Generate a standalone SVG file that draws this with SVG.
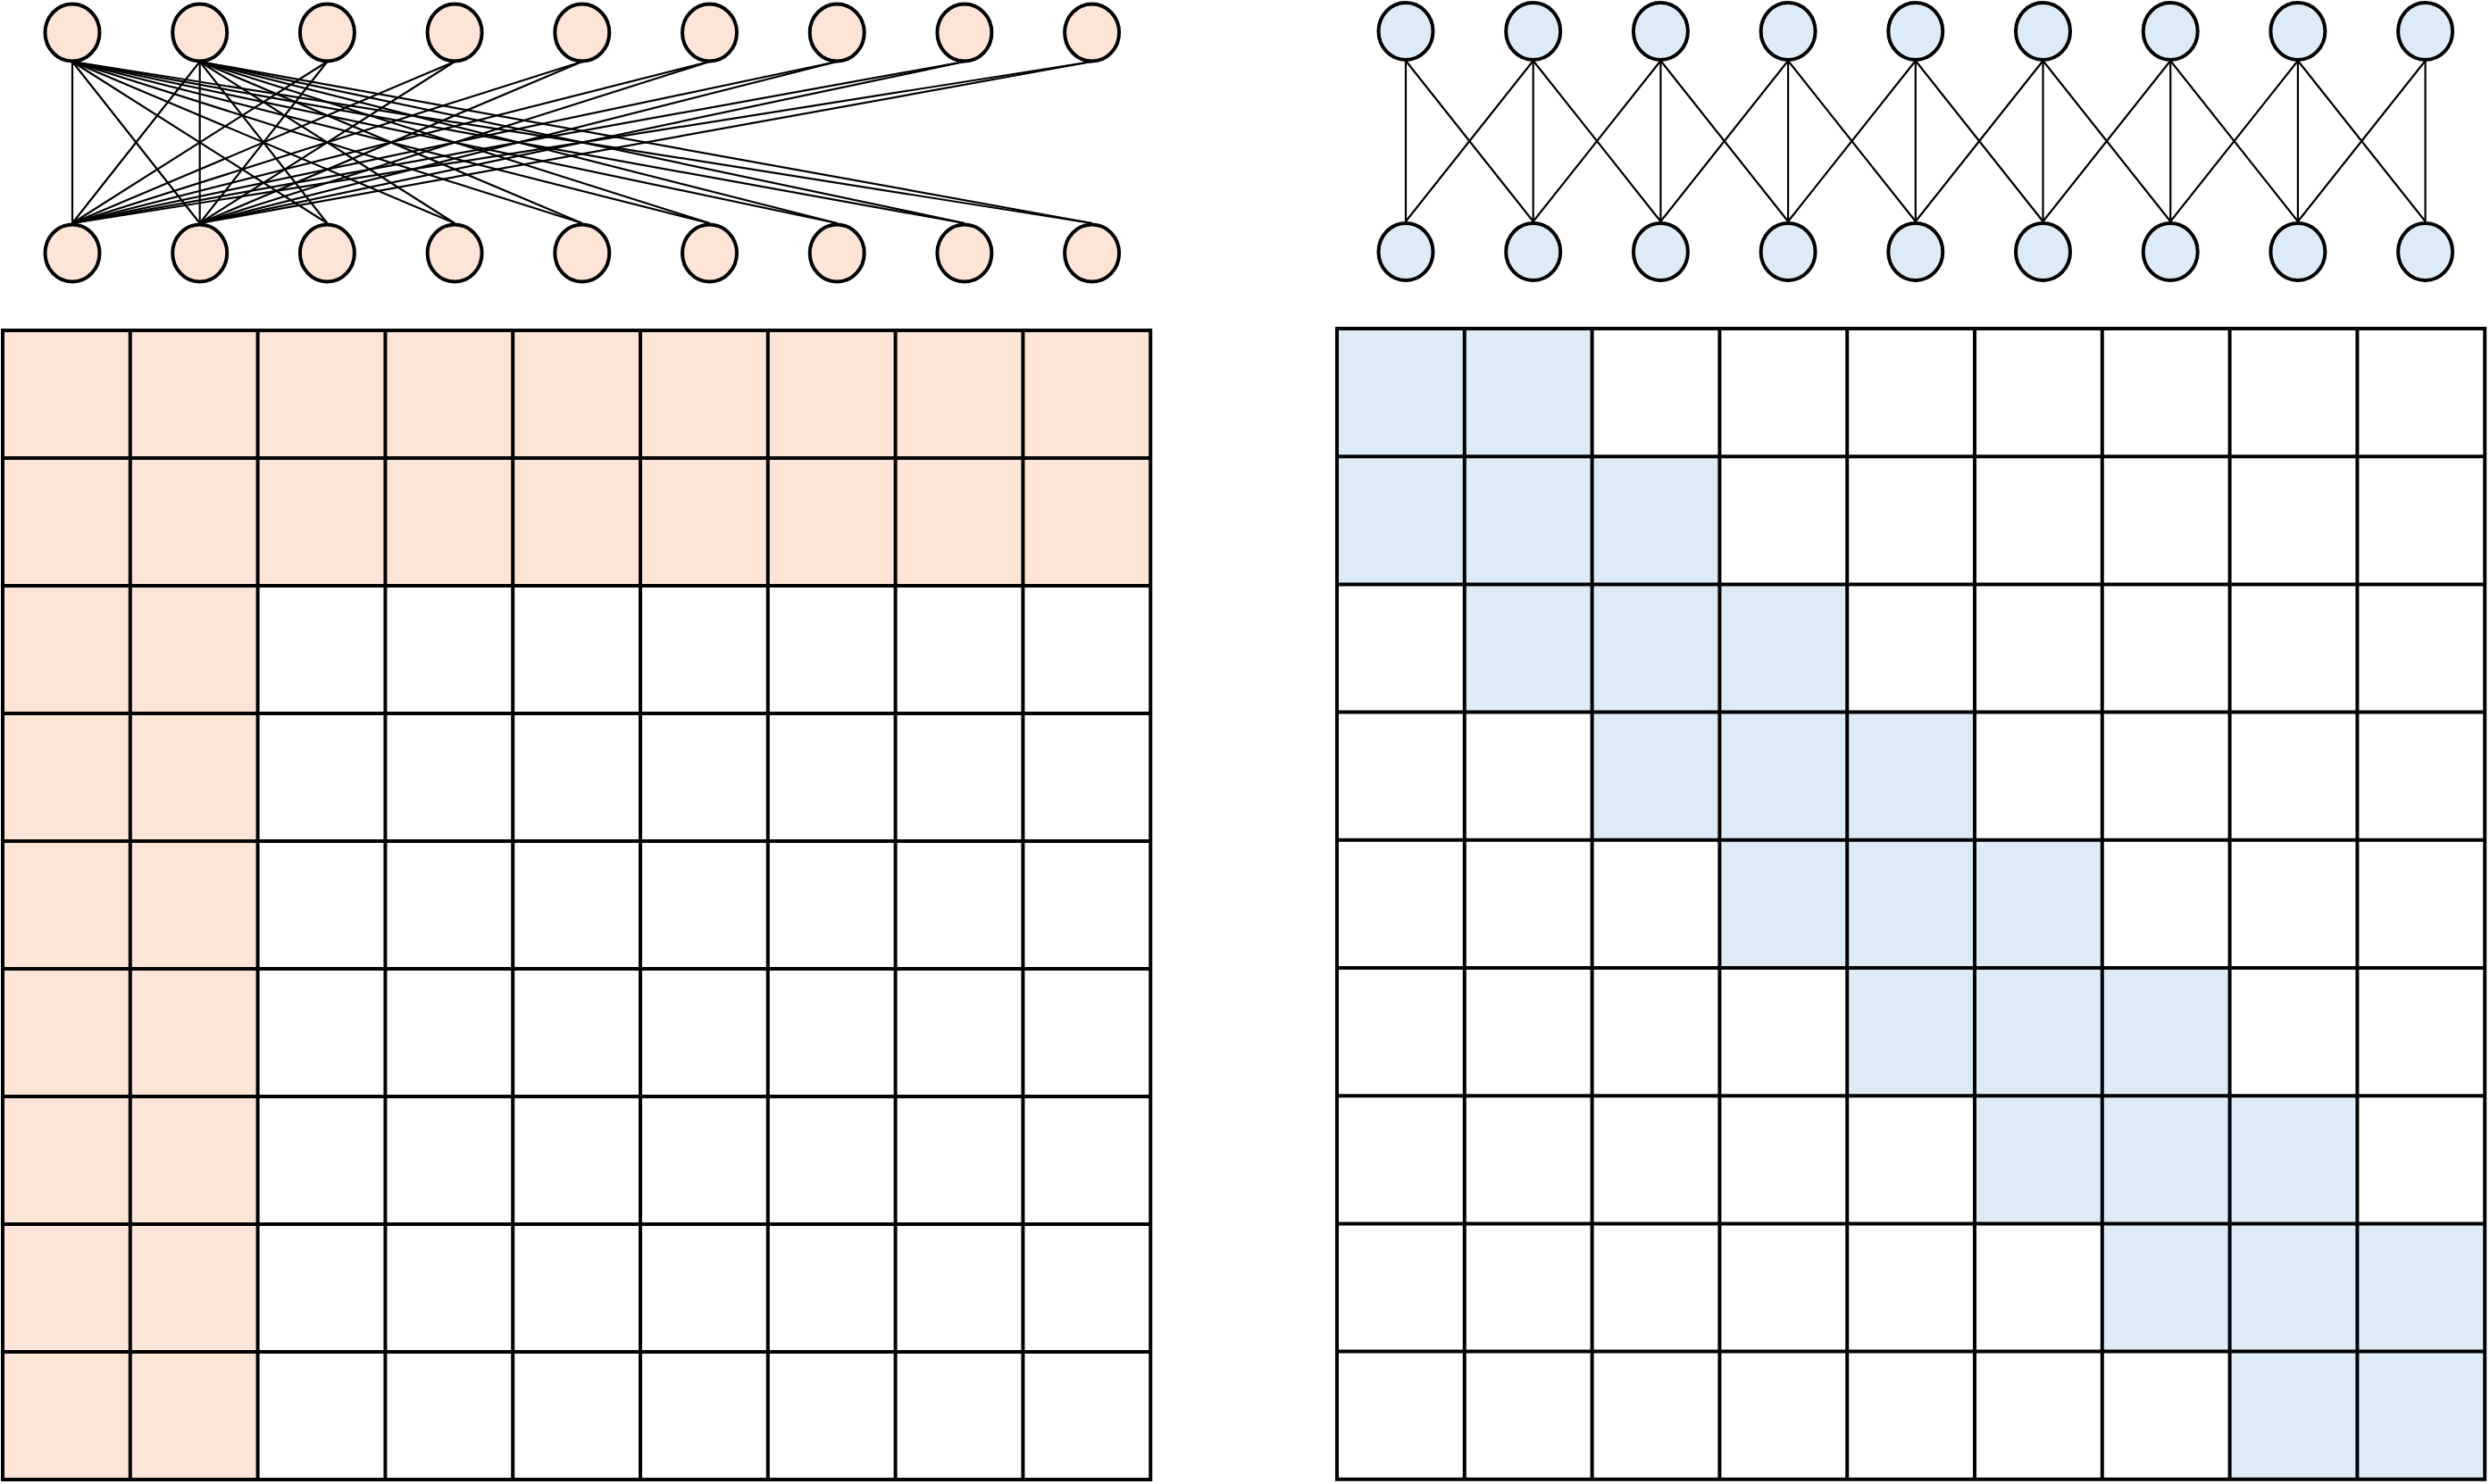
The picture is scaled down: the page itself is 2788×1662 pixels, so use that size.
<svg xmlns="http://www.w3.org/2000/svg" width="2788" height="1662" viewBox="0 0 2788 1662">
<style>
.bg{fill:#ffffff}
.np{fill:#FCE4D6;stroke:#000;stroke-width:4}
.nb{fill:#DDEBF7;stroke:#000;stroke-width:4}
.fp{fill:#FCE4D6;stroke:none}
.fb{fill:#DDEBF7;stroke:none}
.grid{fill:none;stroke:#000;stroke-width:4;stroke-linecap:square}
.edges line{stroke:#000;stroke-width:2.2}
</style>
<rect class="bg" x="0" y="0" width="2788" height="1662"/>

<!-- Left matrix -->
<g id="left-matrix">
<rect class="fp" x="3" y="370" width="1285.2" height="286"/>
<rect class="fp" x="3" y="656" width="285.6" height="1001"/>
<path class="grid" d="M3 370V1657M145.8 370V1657M288.6 370V1657M431.4 370V1657M574.2 370V1657M717 370V1657M859.8 370V1657M1002.6 370V1657M1145.4 370V1657M1288.2 370V1657M3 370H1288.2M3 513H1288.2M3 656H1288.2M3 799H1288.2M3 942H1288.2M3 1085H1288.2M3 1228H1288.2M3 1371H1288.2M3 1514H1288.2M3 1657H1288.2"/>
</g>

<!-- Right matrix -->
<g id="right-matrix">
<rect class="fb" x="1497" y="368" width="285.6" height="143.2"/>
<rect class="fb" x="1497" y="511.2" width="428.4" height="143.2"/>
<rect class="fb" x="1639.8" y="654.4" width="428.4" height="143.2"/>
<rect class="fb" x="1782.6" y="797.6" width="428.4" height="143.2"/>
<rect class="fb" x="1925.4" y="940.8" width="428.4" height="143.2"/>
<rect class="fb" x="2068.2" y="1084" width="428.4" height="143.2"/>
<rect class="fb" x="2211" y="1227.2" width="428.4" height="143.2"/>
<rect class="fb" x="2353.8" y="1370.4" width="428.4" height="143.2"/>
<rect class="fb" x="2496.6" y="1513.6" width="285.6" height="143.2"/>
<path class="grid" d="M1497 368V1656.8M1639.8 368V1656.8M1782.6 368V1656.8M1925.4 368V1656.8M2068.2 368V1656.8M2211 368V1656.8M2353.8 368V1656.8M2496.6 368V1656.8M2639.4 368V1656.8M2782.2 368V1656.8M1497 368H2782.2M1497 511.2H2782.2M1497 654.4H2782.2M1497 797.6H2782.2M1497 940.8H2782.2M1497 1084H2782.2M1497 1227.2H2782.2M1497 1370.4H2782.2M1497 1513.6H2782.2M1497 1656.8H2782.2"/>
</g>

<!-- Connectors -->
<g id="connectors" class="edges">
<!-- left: top 0 to all bottoms -->
<line x1="81" y1="69" x2="81" y2="250"/>
<line x1="81" y1="69" x2="223.7" y2="250"/>
<line x1="81" y1="69" x2="366.4" y2="250"/>
<line x1="81" y1="69" x2="509.1" y2="250"/>
<line x1="81" y1="69" x2="651.8" y2="250"/>
<line x1="81" y1="69" x2="794.5" y2="250"/>
<line x1="81" y1="69" x2="937.2" y2="250"/>
<line x1="81" y1="69" x2="1079.9" y2="250"/>
<line x1="81" y1="69" x2="1222.6" y2="250"/>
<!-- left: top 1 to all bottoms -->
<line x1="223.7" y1="69" x2="81" y2="250"/>
<line x1="223.7" y1="69" x2="223.7" y2="250"/>
<line x1="223.7" y1="69" x2="366.4" y2="250"/>
<line x1="223.7" y1="69" x2="509.1" y2="250"/>
<line x1="223.7" y1="69" x2="651.8" y2="250"/>
<line x1="223.7" y1="69" x2="794.5" y2="250"/>
<line x1="223.7" y1="69" x2="937.2" y2="250"/>
<line x1="223.7" y1="69" x2="1079.9" y2="250"/>
<line x1="223.7" y1="69" x2="1222.6" y2="250"/>
<!-- left: tops 2..8 to bottoms 0,1 -->
<line x1="366.4" y1="69" x2="81" y2="250"/>
<line x1="366.4" y1="69" x2="223.7" y2="250"/>
<line x1="509.1" y1="69" x2="81" y2="250"/>
<line x1="509.1" y1="69" x2="223.7" y2="250"/>
<line x1="651.8" y1="69" x2="81" y2="250"/>
<line x1="651.8" y1="69" x2="223.7" y2="250"/>
<line x1="794.5" y1="69" x2="81" y2="250"/>
<line x1="794.5" y1="69" x2="223.7" y2="250"/>
<line x1="937.2" y1="69" x2="81" y2="250"/>
<line x1="937.2" y1="69" x2="223.7" y2="250"/>
<line x1="1079.9" y1="69" x2="81" y2="250"/>
<line x1="1079.9" y1="69" x2="223.7" y2="250"/>
<line x1="1222.6" y1="69" x2="81" y2="250"/>
<line x1="1222.6" y1="69" x2="223.7" y2="250"/>
<!-- right: banded -->
<line x1="1574" y1="68" x2="1574" y2="248"/>
<line x1="1574" y1="68" x2="1716.7" y2="248"/>
<line x1="1716.7" y1="68" x2="1574" y2="248"/>
<line x1="1716.7" y1="68" x2="1716.7" y2="248"/>
<line x1="1716.7" y1="68" x2="1859.4" y2="248"/>
<line x1="1859.4" y1="68" x2="1716.7" y2="248"/>
<line x1="1859.4" y1="68" x2="1859.4" y2="248"/>
<line x1="1859.4" y1="68" x2="2002.1" y2="248"/>
<line x1="2002.1" y1="68" x2="1859.4" y2="248"/>
<line x1="2002.1" y1="68" x2="2002.1" y2="248"/>
<line x1="2002.1" y1="68" x2="2144.8" y2="248"/>
<line x1="2144.8" y1="68" x2="2002.1" y2="248"/>
<line x1="2144.8" y1="68" x2="2144.8" y2="248"/>
<line x1="2144.8" y1="68" x2="2287.5" y2="248"/>
<line x1="2287.5" y1="68" x2="2144.8" y2="248"/>
<line x1="2287.5" y1="68" x2="2287.5" y2="248"/>
<line x1="2287.5" y1="68" x2="2430.2" y2="248"/>
<line x1="2430.2" y1="68" x2="2287.5" y2="248"/>
<line x1="2430.2" y1="68" x2="2430.2" y2="248"/>
<line x1="2430.2" y1="68" x2="2572.9" y2="248"/>
<line x1="2572.9" y1="68" x2="2430.2" y2="248"/>
<line x1="2572.9" y1="68" x2="2572.9" y2="248"/>
<line x1="2572.9" y1="68" x2="2715.6" y2="248"/>
<line x1="2715.6" y1="68" x2="2572.9" y2="248"/>
<line x1="2715.6" y1="68" x2="2715.6" y2="248"/>
</g>

<!-- Left nodes -->
<g id="lt0"><ellipse class="np" cx="81" cy="36.5" rx="30.5" ry="32"/></g>
<g id="lt1"><ellipse class="np" cx="223.7" cy="36.5" rx="30.5" ry="32"/></g>
<g id="lt2"><ellipse class="np" cx="366.4" cy="36.5" rx="30.5" ry="32"/></g>
<g id="lt3"><ellipse class="np" cx="509.1" cy="36.5" rx="30.5" ry="32"/></g>
<g id="lt4"><ellipse class="np" cx="651.8" cy="36.5" rx="30.5" ry="32"/></g>
<g id="lt5"><ellipse class="np" cx="794.5" cy="36.5" rx="30.5" ry="32"/></g>
<g id="lt6"><ellipse class="np" cx="937.2" cy="36.5" rx="30.5" ry="32"/></g>
<g id="lt7"><ellipse class="np" cx="1079.9" cy="36.5" rx="30.5" ry="32"/></g>
<g id="lt8"><ellipse class="np" cx="1222.6" cy="36.5" rx="30.5" ry="32"/></g>
<g id="lb0"><ellipse class="np" cx="81" cy="283.5" rx="30.5" ry="32"/></g>
<g id="lb1"><ellipse class="np" cx="223.7" cy="283.5" rx="30.5" ry="32"/></g>
<g id="lb2"><ellipse class="np" cx="366.4" cy="283.5" rx="30.5" ry="32"/></g>
<g id="lb3"><ellipse class="np" cx="509.1" cy="283.5" rx="30.5" ry="32"/></g>
<g id="lb4"><ellipse class="np" cx="651.8" cy="283.5" rx="30.5" ry="32"/></g>
<g id="lb5"><ellipse class="np" cx="794.5" cy="283.5" rx="30.5" ry="32"/></g>
<g id="lb6"><ellipse class="np" cx="937.2" cy="283.5" rx="30.5" ry="32"/></g>
<g id="lb7"><ellipse class="np" cx="1079.9" cy="283.5" rx="30.5" ry="32"/></g>
<g id="lb8"><ellipse class="np" cx="1222.6" cy="283.5" rx="30.5" ry="32"/></g>

<!-- Right nodes -->
<g id="rt0"><ellipse class="nb" cx="1574" cy="35" rx="30.5" ry="32"/></g>
<g id="rt1"><ellipse class="nb" cx="1716.7" cy="35" rx="30.5" ry="32"/></g>
<g id="rt2"><ellipse class="nb" cx="1859.4" cy="35" rx="30.5" ry="32"/></g>
<g id="rt3"><ellipse class="nb" cx="2002.1" cy="35" rx="30.5" ry="32"/></g>
<g id="rt4"><ellipse class="nb" cx="2144.8" cy="35" rx="30.5" ry="32"/></g>
<g id="rt5"><ellipse class="nb" cx="2287.5" cy="35" rx="30.5" ry="32"/></g>
<g id="rt6"><ellipse class="nb" cx="2430.2" cy="35" rx="30.5" ry="32"/></g>
<g id="rt7"><ellipse class="nb" cx="2572.9" cy="35" rx="30.5" ry="32"/></g>
<g id="rt8"><ellipse class="nb" cx="2715.6" cy="35" rx="30.5" ry="32"/></g>
<g id="rb0"><ellipse class="nb" cx="1574" cy="282" rx="30.5" ry="32"/></g>
<g id="rb1"><ellipse class="nb" cx="1716.7" cy="282" rx="30.5" ry="32"/></g>
<g id="rb2"><ellipse class="nb" cx="1859.4" cy="282" rx="30.5" ry="32"/></g>
<g id="rb3"><ellipse class="nb" cx="2002.1" cy="282" rx="30.5" ry="32"/></g>
<g id="rb4"><ellipse class="nb" cx="2144.8" cy="282" rx="30.5" ry="32"/></g>
<g id="rb5"><ellipse class="nb" cx="2287.5" cy="282" rx="30.5" ry="32"/></g>
<g id="rb6"><ellipse class="nb" cx="2430.2" cy="282" rx="30.5" ry="32"/></g>
<g id="rb7"><ellipse class="nb" cx="2572.9" cy="282" rx="30.5" ry="32"/></g>
<g id="rb8"><ellipse class="nb" cx="2715.6" cy="282" rx="30.5" ry="32"/></g>
</svg>
